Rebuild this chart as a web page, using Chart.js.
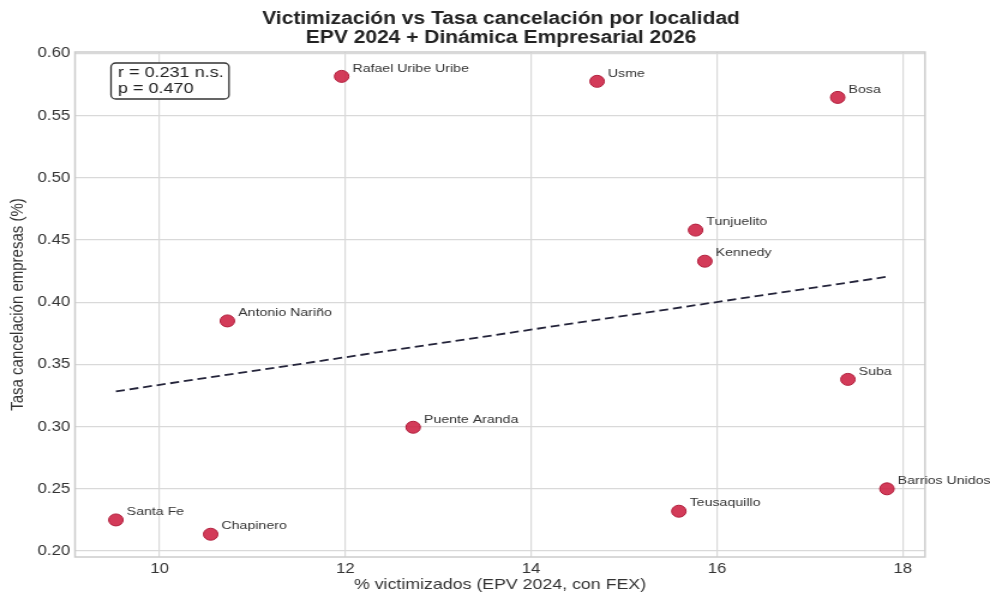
<!DOCTYPE html>
<html>
<head>
<meta charset="utf-8">
<script src="https://cdn.jsdelivr.net/npm/chart.js@4.4.1/dist/chart.umd.min.js"></script>
<style>
  html, body { margin: 0; padding: 0; background: #fff; }
  #wrap { width: 990px; height: 594px; }
</style>
</head>
<body>
<div id="wrap"><canvas id="chart" width="825" height="594" style="width:990px;height:594px"></canvas></div>
<script>
// localidades, valores
var localidades = ['Rafael Uribe Uribe', 'Usme', 'Bosa', 'Tunjuelito', 'Kennedy', 'Antonio Nariño',
                   'Suba', 'Puente Aranda', 'Barrios Unidos', 'Teusaquillo', 'Santa Fe', 'Chapinero'];
var victimizados = [11.96, 14.71, 17.30, 15.77, 15.87, 10.73, 17.41, 12.73, 17.83, 15.59, 9.53, 10.55];
var cancelacion = [0.5816, 0.5776, 0.5647, 0.458, 0.433, 0.385, 0.338, 0.2995, 0.250, 0.232, 0.225, 0.2135];
var xTicks = [10, 12, 14, 16, 18];
var yTicks = [0.20, 0.25, 0.30, 0.35, 0.40, 0.45, 0.50, 0.55, 0.60];
var statLines = ['r = 0.231 n.s.', 'p = 0.470'];
var titleLines = ['Victimización vs Tasa cancelación por localidad', 'EPV 2024 + Dinámica Empresarial 2026'];

var FONT = '"Liberation Sans", Arial, sans-serif';
// la imagen original esta estirada en horizontal (~1.2), el canvas se dibuja a 825 y se muestra a 990
var SX = 990 / 825;

// recta de minimos cuadrados
function fitLine(xs, ys) {
    var n = xs.length, mx = 0, my = 0;
    for (var i = 0; i < n; i++) { mx += xs[i]; my += ys[i]; }
    mx /= n; my /= n;
    var sxy = 0, sxx = 0;
    for (var j = 0; j < n; j++) {
        sxy += (xs[j] - mx) * (ys[j] - my);
        sxx += (xs[j] - mx) * (xs[j] - mx);
    }
    var b = sxy / sxx, a = my - b * mx;
    var x0 = Math.min.apply(null, xs), x1 = Math.max.apply(null, xs);
    return [{x: x0, y: a + b * x0}, {x: x1, y: a + b * x1}];
}

var puntos = victimizados.map(function (v, i) { return {x: v, y: cancelacion[i]}; });

var extras = {
    id: 'extras',
    beforeDatasetsDraw: function (chart) {
        var ctx = chart.ctx, a = chart.chartArea;
        ctx.save();
        ctx.strokeStyle = '#cccccc';
        ctx.lineWidth = 1.5;
        ctx.strokeRect(a.left, a.top, a.right - a.left, a.bottom - a.top);
        ctx.restore();
    },
    afterDraw: function (chart) {
        var ctx = chart.ctx;
        var xs = chart.scales.x, ys = chart.scales.y;
        ctx.save();
        // titulo
        ctx.fillStyle = '#222';
        ctx.font = 'bold 17.5px ' + FONT;
        ctx.textAlign = 'center';
        ctx.textBaseline = 'middle';
        ctx.fillText(titleLines[0], 501 / SX, 19);
        ctx.fillText(titleLines[1], 501 / SX, 38);
        // etiquetas de puntos
        ctx.font = '11.8px ' + FONT;
        ctx.fillStyle = '#333';
        ctx.textAlign = 'left';
        for (var i = 0; i < localidades.length; i++) {
            var px = xs.getPixelForValue(victimizados[i]);
            var py = ys.getPixelForValue(cancelacion[i]);
            ctx.fillText(localidades[i], px + 9, py - 8);
        }
        // caja de estadisticos
        ctx.fillStyle = '#fff';
        ctx.strokeStyle = '#333';
        ctx.lineWidth = 1.3;
        ctx.beginPath();
        ctx.roundRect(111 / SX, 63, 118 / SX, 36, 4);
        ctx.fill();
        ctx.stroke();
        ctx.fillStyle = '#222';
        ctx.font = '15px ' + FONT;
        ctx.fillText(statLines[0], 118 / SX, 73);
        ctx.fillText(statLines[1], 118 / SX, 89);
        ctx.restore();
    }
};

new Chart(document.getElementById('chart'), {
    type: 'scatter',
    data: {
        datasets: [{
            label: 'Localidades',
            data: puntos,
            backgroundColor: 'rgba(205, 32, 66, 0.88)',
            borderColor: '#b01c3a',
            borderWidth: 1,
            pointRadius: 6,
            order: 1
        }, {
            label: 'Tendencia',
            type: 'line',
            data: fitLine(victimizados, cancelacion),
            borderColor: '#24243a',
            borderWidth: 1.8,
            borderDash: [7.5, 4],
            pointRadius: 0,
            fill: false,
            order: 2
        }]
    },
    options: {
        responsive: false,
        animation: false,
        layout: { padding: { top: 52, right: 65 / SX, bottom: 0, left: 0 } },
        plugins: {
            legend: { display: false },
            tooltip: { enabled: false },
            title: { display: false }
        },
        scales: {
            x: {
                type: 'linear',
                min: 9.09,
                max: 18.24,
                afterBuildTicks: function (s) { s.ticks = xTicks.map(function (v) { return {value: v}; }); },
                afterFit: function (s) { s.height = 37; },
                grid: { color: '#d9d9d9', lineWidth: 1.2, drawTicks: false },
                border: { display: false },
                ticks: { color: '#333', font: { family: FONT, size: 14 }, padding: 4 },
                title: { display: true, text: '% victimizados (EPV 2024, con FEX)', color: '#333',
                         font: { family: FONT, size: 14.8 }, padding: { top: 0, bottom: 0 } }
            },
            y: {
                type: 'linear',
                min: 0.1952,
                max: 0.6012,
                afterBuildTicks: function (s) { s.ticks = yTicks.map(function (v) { return {value: v}; }); },
                afterFit: function (s) { s.width = 75 / SX; },
                grid: { color: '#d9d9d9', lineWidth: 1.2, drawTicks: false },
                border: { display: false },
                ticks: { color: '#333', font: { family: FONT, size: 14 }, padding: 4,
                         callback: function (v) { return v.toFixed(2); } },
                title: { display: true, text: 'Tasa cancelación empresas (%)', color: '#333',
                         font: { family: FONT, size: 15 }, padding: { top: 6, bottom: 0 } }
            }
        }
    },
    plugins: [extras]
});
</script>
</body>
</html>
